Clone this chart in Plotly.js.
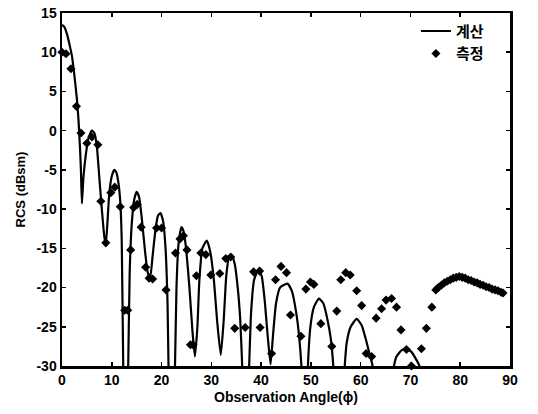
<!DOCTYPE html>
<html>
<head>
<meta charset="utf-8">
<script src="https://cdn.plot.ly/plotly-3.0.1.min.js"></script>
<style>html,body{margin:0;padding:0;background:#fff;}#chart{width:538px;height:414px;}</style>
</head>
<body>
<div id="chart"></div>
<script>
// Calculated RCS (계산)
const calcAngle = [0,0.5,1,1.5,2,2.5,3,3.3,3.6,3.8,4.0,4.3,4.8,5.3,6.0,6.5,7.0,7.5,8.0,8.5,8.8,9.1,9.5,10.0,10.5,10.9,11.3,11.7,12.0,12.3,12.75,13.3,13.6,14.0,14.5,15.0,15.5,16.0,16.7,17.2,17.7,18.2,18.8,19.3,19.8,20.3,20.8,21.2,21.4,22.0,22.7,23.0,23.4,24.0,24.5,25.0,25.6,26.2,26.7,27.2,27.6,28.2,29.1,29.8,30.5,31.2,31.9,32.5,33.0,33.5,34.1,34.7,35.3,35.8,36.2,36.9,37.6,38.0,38.6,39.4,40.1,40.7,41.3,41.9,42.4,43.0,43.8,45.3,46.2,47.0,47.6,48.1,48.8,49.4,49.9,50.6,51.6,52.5,53.3,54.0,54.5,55.6,56.8,57.2,58.0,59.2,60.2,61.0,61.8,62.4,64.5,66.7,67.2,68.2,69.2,70.2,71.0,71.8,73.0,90.0];
const calcRCS   = [13.5,13.2,12.3,11.0,9.5,7.0,4.0,1.5,-2.0,-5.0,-9.3,-6.0,-3.0,-1.0,0.0,-0.3,-2.0,-6.0,-10.0,-13.5,-14.5,-12.0,-8.0,-5.8,-5.0,-5.3,-6.5,-9.0,-14.0,-30.0,-45.0,-30.0,-18.0,-12.0,-8.8,-7.8,-8.5,-11.0,-15.5,-18.0,-18.8,-16.0,-12.5,-10.8,-10.5,-11.5,-15.0,-22.0,-30.0,-45.0,-30.0,-20.0,-14.5,-12.3,-13.0,-15.5,-20.0,-25.5,-28.8,-25.0,-19.0,-15.0,-14.0,-15.5,-19.0,-24.5,-28.6,-24.0,-18.5,-16.3,-15.9,-17.0,-20.0,-24.0,-30.0,-45.0,-30.0,-23.0,-19.0,-17.8,-18.5,-21.5,-26.0,-29.8,-26.0,-22.0,-20.0,-19.5,-20.5,-23.0,-26.0,-30.0,-45.0,-30.0,-25.0,-22.5,-21.4,-22.0,-24.0,-26.5,-30.0,-45.0,-30.0,-27.0,-25.0,-24.0,-24.8,-26.5,-28.5,-30.0,-45.0,-30.0,-28.8,-28.0,-27.8,-28.2,-29.0,-30.0,-45.0,-45.0];

// Measured RCS (측정)
const measAngle = [0,0.8,1.8,2.9,3.8,5.0,6.0,7.2,7.8,8.8,9.8,10.6,11.7,12.6,13.2,13.8,14.4,15.1,15.9,16.8,17.5,18.2,19.0,20.0,20.9,22.8,23.7,24.4,25.1,25.8,26.3,27.0,27.9,28.9,29.9,31.7,32.9,33.9,34.7,36.8,38.5,39.7,39.8,42.1,42.9,44.0,45.1,45.9,48.0,49.0,49.9,50.6,52.0,54.2,55.2,56.0,57.0,57.9,59.2,60.2,61.1,62.2,63.1,64.2,65.1,66.2,67.2,68.1,69.2,70.2,72.2,73.2,74.3,75.1,75.6,76.2,76.8,77.4,78.0,78.6,79.2,79.8,80.4,81.0,81.6,82.2,82.8,83.4,84.0,84.6,85.2,85.8,86.4,87.0,87.6,88.2,88.6];
const measRCS   = [10.0,9.8,7.9,3.1,-0.3,-1.6,-0.8,-1.8,-9.0,-14.3,-7.9,-7.2,-9.7,-22.9,-22.9,-15.2,-9.8,-9.4,-12.3,-17.4,-18.8,-18.9,-12.4,-12.4,-20.3,-15.6,-13.8,-13.4,-15.2,-27.3,-27.3,-18.5,-15.6,-15.8,-18.4,-18.2,-16.3,-16.1,-25.2,-25.1,-18.0,-17.9,-25.1,-28.4,-19.0,-17.3,-18.1,-23.5,-26.2,-20.2,-19.3,-19.6,-24.6,-27.5,-23.0,-19.0,-18.1,-18.4,-20.4,-22.3,-28.4,-28.8,-23.9,-22.7,-21.6,-21.4,-22.5,-25.4,-27.9,-30.0,-27.8,-25.2,-22.5,-20.3,-20.0,-19.7,-19.4,-19.2,-19.0,-18.8,-18.7,-18.6,-18.7,-18.8,-19.0,-19.1,-19.3,-19.4,-19.6,-19.7,-19.9,-20.0,-20.2,-20.3,-20.4,-20.6,-20.7];

const xTicks = [0,10,20,30,40,50,60,70,80,90];
const yTicks = [15,10,5,0,-5,-10,-15,-20,-25,-30];

const tickFont = {family: 'Liberation Sans, Arial, sans-serif', size: 14, color: '#000', weight: 'bold'};

const traces = [
  {x: calcAngle, y: calcRCS, name: '계산', type: 'scatter', mode: 'lines',
   line: {color: '#000', width: 2.2, shape: 'spline', smoothing: 0.5}},
  {x: measAngle, y: measRCS, name: '측정', type: 'scatter', mode: 'markers',
   marker: {symbol: 'diamond', size: 7, color: '#000'}, cliponaxis: false}
];

const layout = {
  width: 538, height: 414,
  margin: {l: 62, r: 28, t: 13, b: 48},
  paper_bgcolor: '#fff', plot_bgcolor: '#fff',
  showlegend: true,
  legend: {x: 0.79, y: 0.995, xanchor: 'left', yanchor: 'top',
           bgcolor: 'rgba(0,0,0,0)', borderwidth: 0, tracegroupgap: 0,
           font: {family: 'Noto Sans CJK KR, sans-serif', size: 15, color: '#000', weight: 'bold'}},
  xaxis: {range: [0, 90], tickvals: xTicks, ticktext: xTicks.map(String),
          showgrid: false, zeroline: false, showline: true, linecolor: '#000', linewidth: 2.5,
          mirror: 'ticks', ticks: 'inside', ticklen: 4, tickwidth: 1.5, tickcolor: '#000',
          tickfont: tickFont,
          title: {text: 'Observation Angle(ϕ)', standoff: 5,
                  font: {family: 'Liberation Sans, Arial, sans-serif', size: 14, color: '#000', weight: 'bold'}}},
  yaxis: {range: [-30, 15], tickvals: yTicks, ticktext: yTicks.map(String),
          showgrid: false, zeroline: false, showline: true, linecolor: '#000', linewidth: 2.5,
          mirror: 'ticks', ticks: 'inside', ticklen: 4, tickwidth: 1.5, tickcolor: '#000',
          tickfont: tickFont,
          title: {text: 'RCS (dBsm)', standoff: 8,
                  font: {family: 'Liberation Sans, Arial, sans-serif', size: 13, color: '#000', weight: 'bold'}}}
};

Plotly.newPlot('chart', traces, layout, {displayModeBar: false, staticPlot: true});
</script>
</body>
</html>
